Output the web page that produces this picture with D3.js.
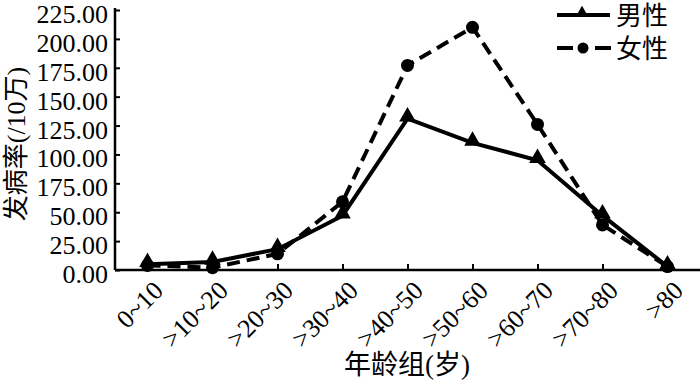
<!DOCTYPE html>
<html>
<head>
<meta charset="utf-8">
<script src="https://cdn.jsdelivr.net/npm/d3@7"></script>
<style>
  body { margin: 0; background: #fff; }
  svg text { font-family: "Liberation Serif", "Times New Roman", "Noto Sans CJK SC", serif; fill: #000; }
</style>
</head>
<body>
<div id="chart"></div>
<script>
// age groups and incidence per 100k
let categories = ["0~10", ">10~20", ">20~30", ">30~40", ">40~50", ">50~60", ">60~70", ">70~80", ">80"];
let male = [5, 7, 18, 47, 131, 110, 95, 47, 3];
let female = [4, 2, 14, 59, 177, 210, 126, 39, 3];
let yTicks = [0, 25, 50, 75, 100, 125, 150, 175, 200, 225];
// the source figure prints 175.00 at the 75 tick, kept as is
let yTickLabels = ["0.00", "25.00", "50.00", "175.00", "100.00", "125.00", "150.00", "175.00", "200.00", "225.00"];
let seriesNames = ["男性", "女性"];

let W = 700, H = 382;
let svg = d3.select("#chart").append("svg")
  .attr("width", W)
  .attr("height", H);

let x = d3.scalePoint().domain(categories).range([115, 700]).padding(0.5);
let y = d3.scaleLinear().domain([0, 225]).range([270, 10]);

// y axis, ticks point inward
let yAxis = svg.append("g")
  .attr("transform", "translate(115,0)")
  .call(d3.axisRight(y).tickValues(yTicks).tickSize(5).tickFormat(""));
yAxis.select(".domain").attr("d", "M0,8V270").attr("stroke-width", 2.5);
yAxis.selectAll(".tick line").attr("stroke-width", 2);

svg.append("g").selectAll("text")
  .data(yTicks)
  .join("text")
  .attr("x", 108)
  .attr("y", d => y(d))
  .attr("dy", "0.5em")
  .attr("text-anchor", "end")
  .style("font-size", "26px")
  .text((d, i) => yTickLabels[i]);

// x axis
let xAxis = svg.append("g")
  .attr("transform", "translate(0,270)")
  .call(d3.axisTop(x).tickSize(6).tickFormat(""));
xAxis.select(".domain").attr("d", "M115,0H700").attr("stroke-width", 2.5);
xAxis.selectAll(".tick line").attr("stroke-width", 2);

svg.append("g").selectAll("text")
  .data(categories)
  .join("text")
  .attr("transform", d => `translate(${x(d) + 5},${280}) rotate(-45)`)
  .attr("text-anchor", "end")
  .attr("dy", "0.66em")
  .style("font-size", "26px")
  .text(d => d);

// axis titles
svg.append("text")
  .attr("transform", "translate(25,144) rotate(-90)")
  .attr("text-anchor", "middle")
  .style("font-size", "26px")
  .text("发病率(/10万)");

svg.append("text")
  .attr("x", 407)
  .attr("y", 374)
  .attr("text-anchor", "middle")
  .style("font-size", "27px")
  .text("年龄组(岁)");

// lines
let line = d3.line()
  .x((d, i) => x(categories[i]))
  .y(d => y(d));

svg.append("path")
  .datum(female)
  .attr("d", line)
  .attr("fill", "none")
  .attr("stroke", "#000")
  .attr("stroke-width", 4)
  .attr("stroke-dasharray", "13,7");

svg.append("g").selectAll("circle")
  .data(female)
  .join("circle")
  .attr("cx", (d, i) => x(categories[i]))
  .attr("cy", d => y(d))
  .attr("r", 6.5)
  .attr("fill", "#000");

svg.append("path")
  .datum(male)
  .attr("d", line)
  .attr("fill", "none")
  .attr("stroke", "#000")
  .attr("stroke-width", 4);

let tri = d3.symbol().type(d3.symbolTriangle).size(120);
svg.append("g").selectAll("path")
  .data(male)
  .join("path")
  .attr("d", tri)
  .attr("transform", (d, i) => `translate(${x(categories[i])},${y(d) - 2})`)
  .attr("fill", "#000");

// legend
let legend = svg.append("g");
legend.append("line")
  .attr("x1", 557).attr("x2", 610).attr("y1", 15).attr("y2", 15)
  .attr("stroke", "#000").attr("stroke-width", 4);
legend.append("path")
  .attr("d", d3.symbol().type(d3.symbolTriangle).size(70))
  .attr("transform", "translate(582,13)");
legend.append("line")
  .attr("x1", 557).attr("x2", 611).attr("y1", 48).attr("y2", 48)
  .attr("stroke", "#000").attr("stroke-width", 4)
  .attr("stroke-dasharray", "16,22");
legend.append("circle")
  .attr("cx", 583).attr("cy", 48).attr("r", 5.5);
legend.selectAll("text.leg")
  .data(seriesNames)
  .join("text")
  .attr("class", "leg")
  .attr("x", 616)
  .attr("y", (d, i) => 16 + i * 33)
  .attr("dy", "0.36em")
  .style("font-size", "26px")
  .text(d => d);
</script>
</body>
</html>
